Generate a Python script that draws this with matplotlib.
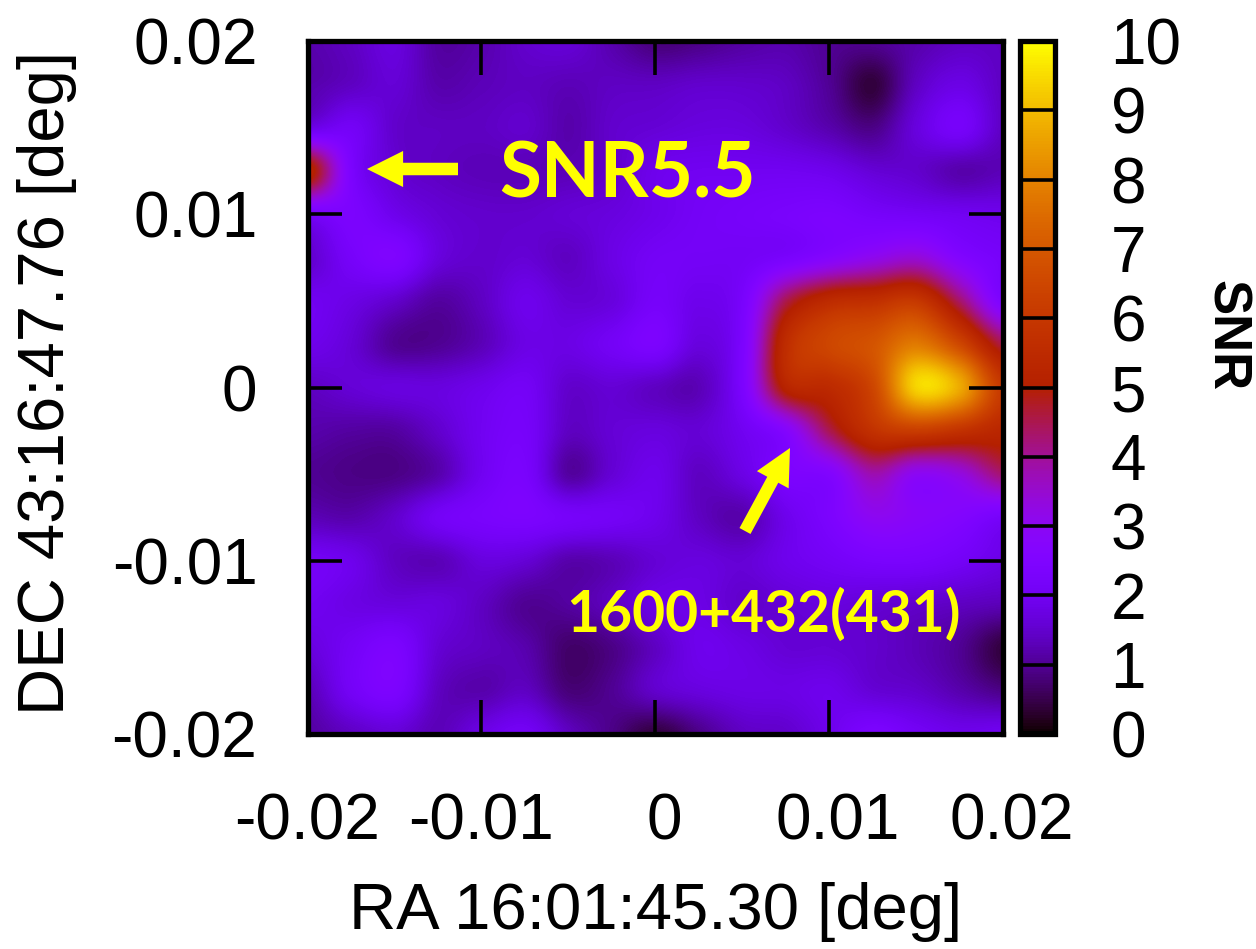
import numpy as np
import matplotlib
matplotlib.use("Agg")
import matplotlib.pyplot as plt
from matplotlib.transforms import ScaledTranslation

ra_ticks = [-0.02, -0.01, 0, 0.01, 0.02]
dec_ticks = [-0.02, -0.01, 0, 0.01, 0.02]
ra_labels = ["-0.02", "-0.01", "0", "0.01", "0.02"]
dec_labels = ["-0.02", "-0.01", "0", "0.01", "0.02"]
snr_ticks = list(range(0, 11))
half_cell = 0.00125

snr_rows = [
    [1.2, 1.4, 1.7, 1.1, 1.2, 1.5, 1.6, 1.2, 0.8, 0.9, 1.1, 1.2, 1.0, 1.0, 1.2, 1.4, 1.4],
    [1.2, 1.4, 1.6, 1.2, 1.3, 1.4, 1.3, 1.4, 1.4, 1.5, 1.5, 1.4, 1.0, 0.4, 1.4, 1.8, 1.4],
    [1.8, 2.1, 1.5, 1.4, 1.4, 1.5, 1.2, 1.5, 1.6, 1.7, 1.7, 1.5, 1.2, 0.9, 1.7, 2.2, 1.4],
    [5.3, 2.4, 1.6, 1.4, 1.3, 1.3, 1.3, 1.5, 1.9, 2.0, 2.0, 2.0, 1.9, 1.6, 1.5, 1.2, 1.3],
    [2.2, 2.4, 1.9, 1.6, 1.5, 1.5, 1.6, 1.7, 1.9, 2.1, 2.2, 2.3, 2.4, 2.2, 2.1, 2.0, 1.9],
    [1.5, 2.2, 2.5, 1.7, 1.5, 1.6, 1.4, 1.8, 2.1, 2.1, 2.1, 2.3, 2.7, 3.1, 3.4, 2.6, 2.2],
    [2.0, 1.8, 1.5, 1.1, 1.4, 1.9, 1.6, 1.7, 2.2, 1.9, 2.3, 4.5, 5.5, 5.7, 6.0, 4.3, 2.4],
    [1.9, 1.6, 1.0, 1.0, 1.3, 1.8, 1.8, 2.1, 2.4, 1.7, 2.4, 5.6, 6.5, 6.9, 7.8, 6.5, 4.5],
    [1.4, 1.6, 1.7, 1.7, 1.9, 2.1, 1.5, 1.6, 1.4, 1.3, 2.4, 5.2, 5.5, 6.5, 9.4, 8.7, 6.0],
    [1.2, 1.1, 1.1, 1.5, 2.0, 2.2, 1.4, 1.6, 1.7, 1.6, 2.0, 2.7, 4.5, 5.8, 6.2, 5.8, 5.3],
    [1.0, 0.9, 0.9, 1.2, 2.0, 2.3, 1.1, 1.6, 1.9, 1.4, 1.8, 2.4, 2.6, 3.8, 3.0, 3.3, 4.3],
    [1.3, 1.2, 1.5, 2.1, 2.3, 2.4, 2.2, 2.1, 1.9, 1.4, 1.2, 1.9, 2.4, 3.0, 2.8, 2.6, 2.2],
    [2.1, 1.9, 1.4, 1.3, 1.7, 1.6, 1.2, 1.3, 1.6, 1.7, 1.6, 1.9, 2.1, 2.3, 2.3, 2.1, 1.8],
    [2.0, 1.8, 1.7, 1.7, 1.4, 1.0, 1.1, 1.4, 1.8, 1.8, 1.5, 1.6, 1.7, 1.6, 1.5, 1.4, 1.3],
    [1.7, 2.1, 2.4, 1.6, 1.4, 1.2, 0.7, 0.9, 1.4, 1.9, 1.8, 1.6, 1.6, 1.5, 1.3, 1.0, 0.4],
    [1.3, 2.1, 2.4, 1.4, 1.2, 1.4, 0.8, 1.0, 1.5, 1.7, 1.8, 1.8, 1.9, 1.6, 1.5, 1.2, 0.9],
    [1.1, 1.4, 1.6, 1.3, 1.8, 2.1, 1.4, 0.9, 0.4, 0.9, 1.4, 1.5, 1.9, 2.4, 2.1, 1.9, 2.0],
]

W, H = 1256, 949
font = "Liberation Sans"
plt.rcParams["font.family"] = [font, "DejaVu Sans"]
fig = plt.figure(figsize=(W / 100, H / 100), dpi=100, facecolor="white")


def box(x0, y0, x1, y1):
    return [x0 / W, 1 - y1 / H, (x1 - x0) / W, (y1 - y0) / H]


ax = fig.add_axes(box(307.5, 41, 1003, 734))
im = ax.imshow(np.array(snr_rows), cmap="gnuplot", vmin=0, vmax=10, origin="upper",
               extent=[-0.02 - half_cell, 0.02 + half_cell, -0.02 - half_cell, 0.02 + half_cell],
               aspect="auto", interpolation="catrom")
ax.set_xlim(-0.02, 0.02)
ax.set_ylim(-0.02, 0.02)
ax.set_xticks(ra_ticks, ra_labels)
ax.set_yticks(dec_ticks, dec_labels)
ax.tick_params(axis="both", direction="in", length=24.5, width=2.6, top=True, right=True,
               labelsize=46)
ax.tick_params(axis="x", pad=42)
ax.tick_params(axis="y", pad=36)
for s in ax.spines.values():
    s.set_linewidth(3.8)
for lab in ax.get_xticklabels()[2:]:
    lab.set_transform(lab.get_transform() + ScaledTranslation(9 / 100, 0, fig.dpi_scale_trans))

cax = fig.add_axes(box(1020, 41, 1055, 734))
cb = fig.colorbar(im, cax=cax)
cb.set_ticks(snr_ticks)
cax.tick_params(axis="y", direction="in", length=25.5, width=2.6, labelsize=46, pad=40)
cb.outline.set_linewidth(3.8)

fig.text(47 / W, 1 - 383 / H, "DEC 43:16:47.76 [deg]", rotation=90, ha="center", va="center", fontsize=47)
fig.text(656 / W, 1 - 912 / H, "RA 16:01:45.30 [deg]", ha="center", va="center", fontsize=47)
fig.text(1226 / W, 1 - 336 / H, "SNR", rotation=270, ha="center", va="center", fontsize=38, fontweight="bold")

yellow = "#ffff00"
fig.text(499 / W, 1 - 198 / H, "SNR5.5", color=yellow, family="Lato", fontweight="bold", fontsize=55,
         ha="left", va="baseline")
fig.text(566 / W, 1 - 632 / H, "1600+432(431)", color=yellow, family="Lato", fontweight="bold", fontsize=41,
         ha="left", va="baseline")

for tail, tip in [((458, 169), (367, 169)), ((745, 531), (790, 448))]:
    ax.annotate("", xy=(tip[0] / W, 1 - tip[1] / H), xytext=(tail[0] / W, 1 - tail[1] / H),
                xycoords="figure fraction", textcoords="figure fraction",
                arrowprops=dict(facecolor=yellow, edgecolor="none", width=9, headwidth=26,
                                headlength=26, shrink=0))

fig.savefig("out.png", dpi=100, facecolor="white")
